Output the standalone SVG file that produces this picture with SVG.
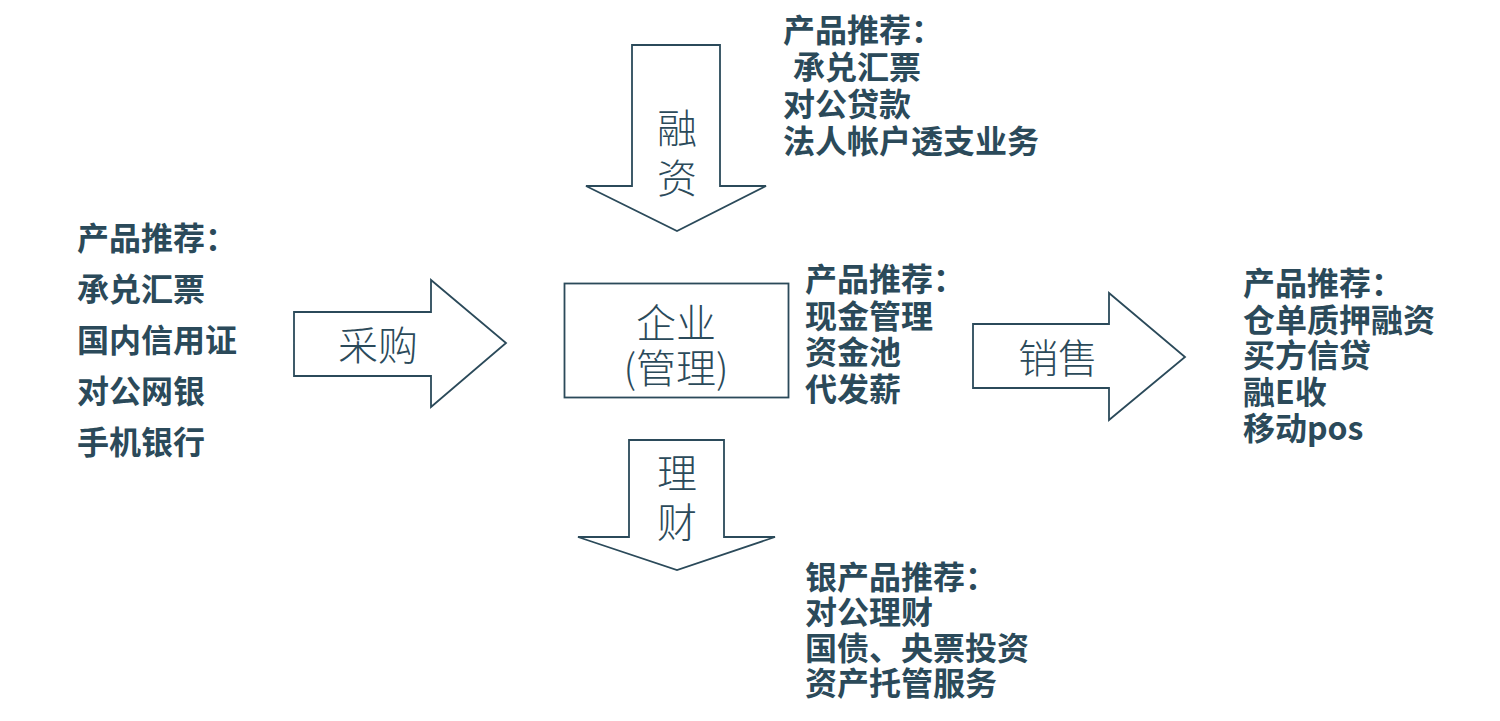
<svg xmlns="http://www.w3.org/2000/svg" width="1500" height="721" viewBox="0 0 1500 721">
<style>
.shape{fill:#ffffff;stroke:#2b4a5a;stroke-width:1.8;stroke-linejoin:miter}
.lbl{font-family:"Noto Sans CJK SC","Noto Sans",sans-serif;font-size:40px;font-weight:300;fill:#2b4a5a;text-anchor:middle}
.txt{font-family:"Noto Sans CJK SC","Noto Sans",sans-serif;font-size:32px;font-weight:700;fill:#2b4a5a}
</style>
<rect width="1500" height="721" fill="#ffffff"/>
<g id="connectors">
  <g id="arrow-rongzi">
    <polygon class="shape" points="632,45 720,45 720,186 766,186 677,231 586,186 632,186"/>
    <text class="lbl" x="677" y="143">融</text>
    <text class="lbl" x="677" y="193">资</text>
  </g>
  <g id="arrow-caigou">
    <polygon class="shape" points="294,312 431,312 431,280 506,343 431,407 431,376 294,376"/>
    <text class="lbl" x="378" y="360">采购</text>
  </g>
  <g id="arrow-licai">
    <polygon class="shape" points="629,440 724,440 724,537 775,537 677,570 578,537 629,537"/>
    <text class="lbl" x="677" y="488">理</text>
    <text class="lbl" x="677" y="537">财</text>
  </g>
  <g id="arrow-xiaoshou">
    <polygon class="shape" points="973,324 1109,324 1109,293 1185,357 1109,420 1109,388 973,388"/>
    <text class="lbl" x="1058" y="373">销售</text>
  </g>
</g>
<g id="node-qiye">
  <rect class="shape" x="564.5" y="283.5" width="224" height="114"/>
  <text class="lbl" x="676" y="338">企业</text>
  <text class="lbl" x="676" y="383">(管理)</text>
</g>
<g id="text-left">
  <text class="txt" x="77" y="250">产品推荐：</text>
  <text class="txt" x="77" y="301">承兑汇票</text>
  <text class="txt" x="77" y="352">国内信用证</text>
  <text class="txt" x="77" y="403">对公网银</text>
  <text class="txt" x="77" y="454">手机银行</text>
</g>
<g id="text-top">
  <text class="txt" x="783" y="42">产品推荐：</text>
  <text class="txt" x="793" y="79">承兑汇票</text>
  <text class="txt" x="783" y="116">对公贷款</text>
  <text class="txt" x="783" y="153">法人帐户透支业务</text>
</g>
<g id="text-middle">
  <text class="txt" x="805" y="291">产品推荐：</text>
  <text class="txt" x="805" y="328">现金管理</text>
  <text class="txt" x="805" y="364">资金池</text>
  <text class="txt" x="805" y="401">代发薪</text>
</g>
<g id="text-right">
  <text class="txt" x="1243" y="295">产品推荐：</text>
  <text class="txt" x="1243" y="332">仓单质押融资</text>
  <text class="txt" x="1243" y="367">买方信贷</text>
  <text class="txt" x="1243" y="404">融E收</text>
  <text class="txt" x="1243" y="440">移动pos</text>
</g>
<g id="text-bottom">
  <text class="txt" x="805" y="589">银产品推荐：</text>
  <text class="txt" x="805" y="624">对公理财</text>
  <text class="txt" x="805" y="660">国债、央票投资</text>
  <text class="txt" x="805" y="695">资产托管服务</text>
</g>
</svg>
